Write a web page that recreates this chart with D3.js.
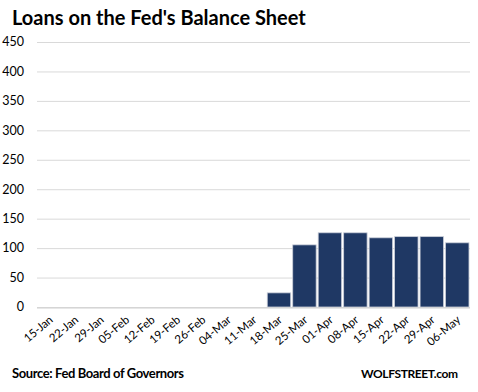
<!DOCTYPE html>
<html>
<head>
<meta charset="utf-8">
<script src="https://cdn.jsdelivr.net/npm/d3@7"></script>
<style>
  body { margin: 0; background: #fff; }
  text { font-family: Lato, "Open Sans", sans-serif; }
</style>
</head>
<body>
<div id="chart-area"></div>
<script>
// weekly dates and loan values (billions)
const dates = ["15-Jan", "22-Jan", "29-Jan", "05-Feb", "12-Feb", "19-Feb", "26-Feb", "04-Mar",
  "11-Mar", "18-Mar", "25-Mar", "01-Apr", "08-Apr", "15-Apr", "22-Apr", "29-Apr", "06-May"]
const loans = [0, 0, 0, 0, 0, 0, 0, 0, 0, 24, 105.5, 126, 126, 117.5, 119.5, 119.5, 109]
const yTicks = [0, 50, 100, 150, 200, 250, 300, 350, 400, 450]

const width = 478, height = 392
const margin = { left: 37, right: 8, top: 42, bottom: 85 }

const svg = d3.select("#chart-area").append("svg")
  .attr("width", width)
  .attr("height", height)

const x = d3.scaleBand()
  .domain(dates)
  .range([margin.left, width - margin.right])
  .paddingInner(0.08)
  .paddingOuter(0.04)

const y = d3.scaleLinear()
  .domain([0, 450])
  .range([height - margin.bottom, margin.top])

// gridlines
svg.append("g")
  .selectAll("line")
  .data(yTicks)
  .enter().append("line")
  .attr("x1", margin.left)
  .attr("x2", width - margin.right)
  .attr("y1", d => y(d) + 0.5)
  .attr("y2", d => y(d) + 0.5)
  .attr("stroke", "#d9d9d9")
  .attr("stroke-width", 1)

// y labels
svg.append("g")
  .selectAll("text")
  .data(yTicks)
  .enter().append("text")
  .attr("x", 24)
  .attr("y", d => y(d))
  .attr("dy", "0.35em")
  .attr("text-anchor", "end")
  .attr("font-size", 12.5)
  .attr("fill", "#000")
  .text(d => d)

// bars
svg.append("g")
  .selectAll("rect")
  .data(loans)
  .enter().append("rect")
  .attr("x", (d, i) => x(dates[i]))
  .attr("y", d => y(d))
  .attr("width", x.bandwidth())
  .attr("height", d => y(0) - y(d))
  .attr("fill", "#1f3864")
  .attr("stroke", d => d > 0 ? "#c9cdd8" : "none")
  .attr("stroke-width", 0.8)

// x axis line
svg.append("line")
  .attr("x1", margin.left)
  .attr("x2", width - margin.right)
  .attr("y1", y(0) + 1)
  .attr("y2", y(0) + 1)
  .attr("stroke", "#d0d0d0")

// x labels
svg.append("g")
  .selectAll("text")
  .data(dates)
  .enter().append("text")
  .attr("transform", d => `translate(${x(d) + x.bandwidth() / 2 + 4},${y(0) + 14}) rotate(-40)`)
  .attr("text-anchor", "end")
  .attr("font-size", 11.5)
  .attr("fill", "#000")
  .text(d => d)

// title and notes
svg.append("text")
  .attr("x", 12)
  .attr("y", 25)
  .attr("font-size", 20)
  .attr("font-weight", "bold")
  .text("Loans on the Fed's Balance Sheet")

svg.append("text")
  .attr("x", 12)
  .attr("y", 378)
  .attr("font-size", 13)
  .attr("font-weight", "bold")
  .attr("textLength", 172)
  .text("Source: Fed Board of Governors")

svg.append("text")
  .attr("x", 458)
  .attr("y", 378)
  .attr("text-anchor", "end")
  .attr("font-size", 12)
  .attr("font-weight", "bold")
  .attr("textLength", 97)
  .text("WOLFSTREET.com")
</script>
</body>
</html>
